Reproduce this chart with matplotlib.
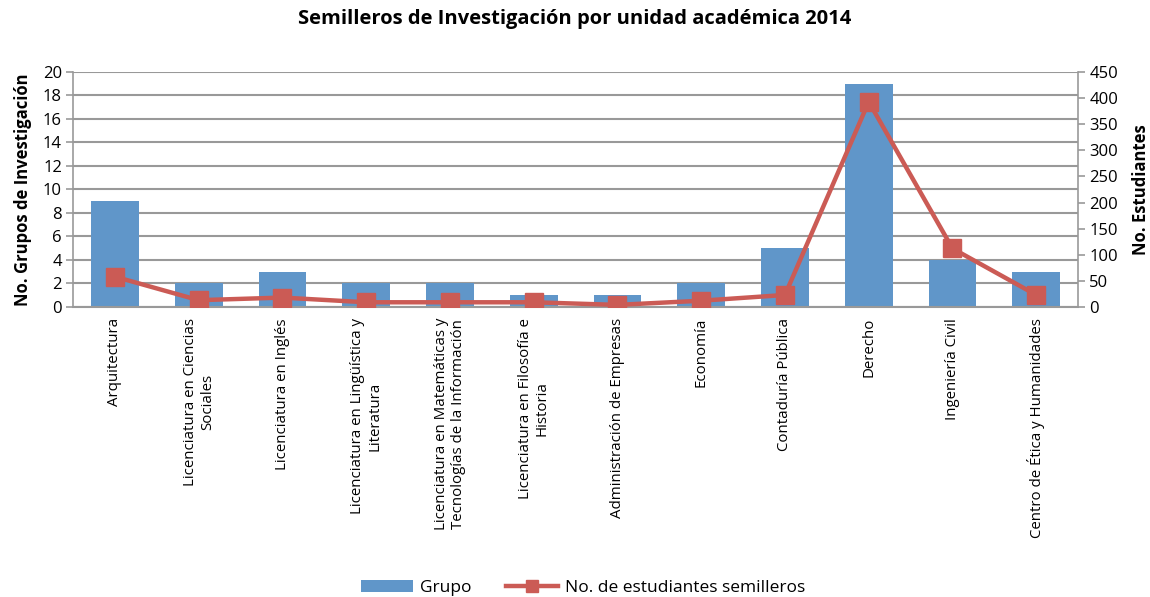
import numpy as np
import matplotlib.pyplot as plt

plt.rcParams['font.family'] = ['Open Sans', 'DejaVu Sans']

# data
categorias = ["Arquitectura", "Licenciatura en Ciencias\nSociales", "Licenciatura en Inglés",
              "Licenciatura en Lingüística y\nLiteratura",
              "Licenciatura en Matemáticas y\nTecnologías de la Información",
              "Licenciatura en Filosofía e\nHistoria", "Administración de Empresas", "Economía",
              "Contaduría Pública", "Derecho", "Ingeniería Civil", "Centro de Ética y Humanidades"]
grupos = [9, 2, 3, 2, 2, 1, 1, 2, 5, 19, 4, 3]
estudiantes = [58, 13, 18, 9, 9, 9, 4, 12, 23, 393, 112, 23]

azul = '#6096C9'
rojo = '#CB5B55'
gris = '#999999'

fig = plt.figure(figsize=(11.5, 5.97), dpi=100)
ax = fig.add_axes([0.0635, 0.4858, 0.874, 0.3936])
ax2 = ax.twinx()

x = np.arange(len(categorias))
bars = ax.bar(x, grupos, width=0.57, color=azul, zorder=2, label='Grupo')
line, = ax2.plot(x, estudiantes, color=rojo, lw=3.2, marker='s', markersize=13,
                 zorder=3, label='No. de estudiantes semilleros')

ax.set_xlim(-0.5, len(categorias) - 0.5)
ax.set_ylim(0, 20)
ax.set_yticks(range(0, 21, 2))
ax2.set_ylim(0, 450)
ax2.set_yticks(range(0, 451, 50))
ax.yaxis.grid(True, color=gris, lw=1.5, zorder=0)
ax.set_axisbelow(True)

ax.set_xticks(x)
ax.set_xticklabels(categorias, rotation=90, ha='center', va='top', multialignment='center', fontsize=10.8)
ax.tick_params(axis='x', length=0, pad=8)
ax.tick_params(axis='y', labelsize=12, color=gris, length=5, width=1.2, pad=3)
ax2.tick_params(axis='y', labelsize=12, color=gris, length=5, width=1.2, pad=3)

for a in (ax, ax2):
    for s in a.spines.values():
        s.set_visible(False)
ax.spines['left'].set_visible(True)
ax.spines['left'].set_color(gris)
ax.spines['left'].set_linewidth(1.2)
ax2.spines['right'].set_visible(True)
ax2.spines['right'].set_color(gris)
ax2.spines['right'].set_linewidth(1.2)
ax.spines['bottom'].set_visible(True)
ax.spines['bottom'].set_color(gris)
ax.spines['bottom'].set_linewidth(1.5)
ax.set_zorder(ax2.get_zorder() - 1)
ax2.patch.set_visible(False)

ax.set_ylabel('No. Grupos de Investigación', fontsize=12, fontweight='bold', labelpad=8)
ax2.set_ylabel('No. Estudiantes', fontsize=12, fontweight='bold', labelpad=10)

fig.suptitle('Semilleros de Investigación por unidad académica 2014', fontsize=14.5,
             fontweight='bold', y=0.985)

fig.legend(handles=[bars, line], loc='lower center', ncol=2, frameon=False, fontsize=12.5,
           bbox_to_anchor=(0.507, -0.025), handlelength=3.0, columnspacing=2.0,
           handletextpad=0.4, markerscale=0.7)

fig.savefig('out.png', dpi=100)
